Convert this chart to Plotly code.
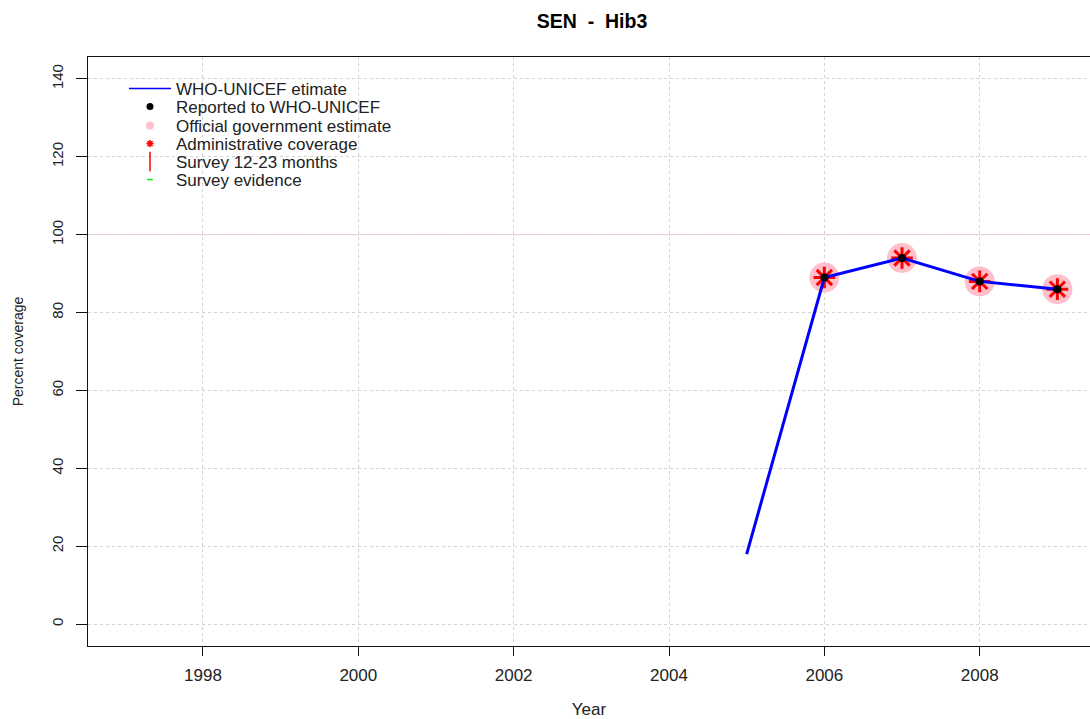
import plotly.graph_objects as go

years = [2005, 2006, 2007, 2008, 2009]
wuenic = [18, 89, 94, 88, 86]
reported_years = [2006, 2007, 2008, 2009]
reported = [89, 94, 88, 86]
official = [89, 94, 88, 86]
admin = [89, 94, 88, 86]
x_ticks = [1998, 2000, 2002, 2004, 2006, 2008]
y_ticks = [0, 20, 40, 60, 80, 100, 120, 140]
target = 100

font = "Liberation Sans, Arial, sans-serif"
TXT = "#222222"

L, T, B = 88, 57, 719 - 646
R = 0
PW = 1090 - L - R
PH = 719 - T - B

fig = go.Figure()
fig.add_trace(go.Scatter(x=reported_years, y=official, mode="markers",
                         marker=dict(symbol="circle", size=30, color="#FFC0CB"),
                         name="Official government estimate", showlegend=False))
fig.add_trace(go.Scatter(x=reported_years, y=admin, mode="markers",
                         marker=dict(symbol="asterisk-open", size=18, color="red",
                                     line=dict(color="red", width=3)),
                         name="Administrative coverage", showlegend=False))
fig.add_trace(go.Scatter(x=years, y=wuenic, mode="lines",
                         line=dict(color="blue", width=3),
                         name="WHO-UNICEF etimate", showlegend=False))
fig.add_trace(go.Scatter(x=reported_years, y=reported, mode="markers",
                         marker=dict(symbol="circle", size=8, color="black"),
                         name="Reported to WHO-UNICEF", showlegend=False))

# legend entries (one legend per row, to match the row spacing)
leg = [
    ("WHO-UNICEF etimate", dict(mode="lines", line=dict(color="blue", width=1.5))),
    ("Reported to WHO-UNICEF", dict(mode="markers", marker=dict(symbol="circle", size=7, color="black"))),
    ("Official government estimate", dict(mode="markers", marker=dict(symbol="circle", size=8, color="#FFC0CB"))),
    ("Administrative coverage", dict(mode="markers", marker=dict(symbol="asterisk-open", size=6, color="red",
                                                                 line=dict(color="red", width=1.5)))),
    ("Survey 12-23 months", dict(mode="markers", marker=dict(symbol="line-ns-open", size=14, color="red",
                                                             line=dict(color="red", width=1.5)))),
    ("Survey evidence", dict(mode="markers", marker=dict(symbol="line-ew-open", size=4, color="#00EE00",
                                                         line=dict(color="#00EE00", width=1.5)))),
]
row_y = [89, 107, 126, 144, 162, 180]
legend_layouts = {}
for i, (nm, kw) in enumerate(leg):
    key = "legend" if i == 0 else f"legend{i + 1}"
    fig.add_trace(go.Scatter(x=[None], y=[None], name=nm, legend=key, **kw))
    legend_layouts[key] = dict(
        x=(124 - L) / PW, xanchor="left",
        y=1 - (row_y[i] - T) / PH, yanchor="middle",
        bgcolor="rgba(0,0,0,0)", font=dict(size=17, color=TXT, family=font),
        itemwidth=42, borderwidth=0,
    )

fig.add_shape(type="line", xref="paper", x0=0, x1=1, yref="y", y0=target, y1=target,
              line=dict(color="#FFC0CB", width=1), layer="below")

axis_common = dict(showgrid=True, gridcolor="#D3D3D3", griddash="dot", gridwidth=1,
                   showline=True, linecolor="#111111", linewidth=1,
                   ticks="outside", tickcolor="#111111", tickwidth=1,
                   zeroline=False)

fig.update_layout(
    width=1090, height=719,
    margin=dict(l=L, r=R, t=T, b=B),
    paper_bgcolor="white", plot_bgcolor="white",
    title=dict(text="<b>SEN&nbsp;&nbsp;-&nbsp;&nbsp;Hib3</b>", x=592 / 1090, xanchor="center",
               y=1 - 21 / 719, yanchor="middle", font=dict(size=19.5, color="black", family=font)),
    xaxis=dict(range=[1996.52, 2009.42], tickvals=x_ticks, mirror=True, ticklen=9,
               ticklabelstandoff=5, tickfont=dict(size=17, color=TXT, family=font),
               title=dict(text="Year", font=dict(size=17, color=TXT, family=font), standoff=20),
               **axis_common),
    yaxis=dict(range=[-5.6, 145.6], tickvals=y_ticks, tickangle=-90, ticklen=11,
               ticklabelstandoff=7, tickfont=dict(size=15, color=TXT, family=font),
               title=dict(text="Percent coverage", font=dict(size=14, color=TXT, family=font), standoff=22),
               **axis_common),
    showlegend=True,
    **legend_layouts,
)

fig.write_html("out.html", config={"displayModeBar": False},
               post_script="document.body.style.margin='0';document.body.style.overflow='hidden';")
